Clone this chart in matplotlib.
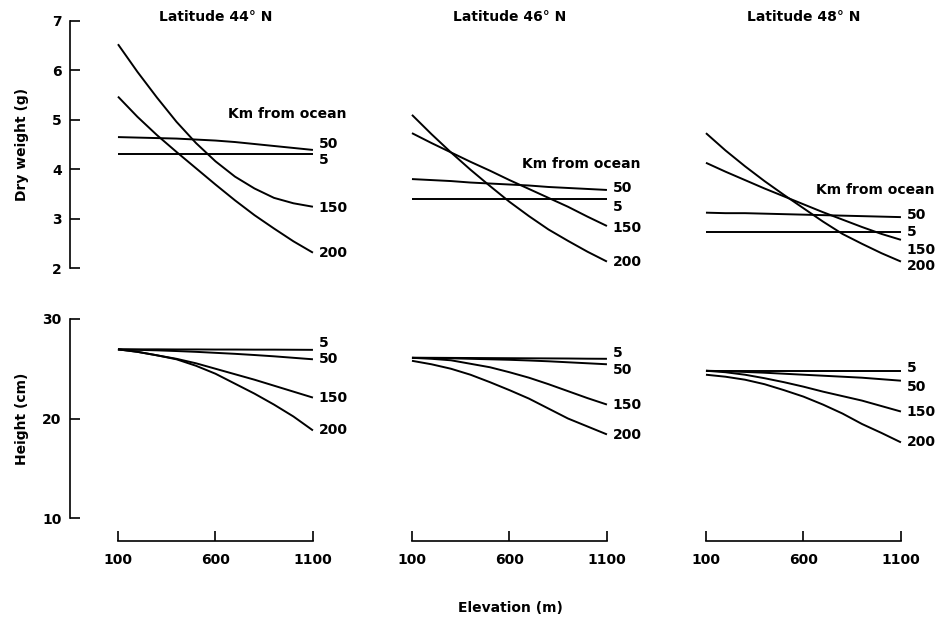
import matplotlib.pyplot as plt

elev = [100, 200, 300, 400, 500, 600, 700, 800, 900, 1000, 1100]
dists = ['5', '50', '150', '200']
titles = ['Latitude 44° N', 'Latitude 46° N', 'Latitude 48° N']

# dry weight (g) by km from ocean
dry_44 = {'5': [4.30, 4.30, 4.30, 4.30, 4.30, 4.30, 4.30, 4.30, 4.30, 4.30, 4.30],
          '50': [4.65, 4.64, 4.63, 4.62, 4.60, 4.58, 4.55, 4.51, 4.47, 4.43, 4.39],
          '150': [6.53, 5.97, 5.45, 4.96, 4.53, 4.16, 3.85, 3.61, 3.42, 3.31, 3.24],
          '200': [5.47, 5.06, 4.69, 4.35, 4.02, 3.69, 3.37, 3.07, 2.80, 2.54, 2.31]}
dry_46 = {'5': [3.39, 3.39, 3.39, 3.39, 3.39, 3.39, 3.39, 3.39, 3.39, 3.39, 3.39],
          '50': [3.80, 3.78, 3.76, 3.73, 3.71, 3.69, 3.67, 3.64, 3.62, 3.60, 3.58],
          '150': [4.73, 4.53, 4.34, 4.15, 3.97, 3.78, 3.60, 3.42, 3.24, 3.04, 2.85],
          '200': [5.10, 4.71, 4.34, 3.99, 3.66, 3.34, 3.05, 2.78, 2.55, 2.33, 2.13]}
dry_48 = {'5': [2.73, 2.73, 2.73, 2.73, 2.73, 2.73, 2.73, 2.73, 2.73, 2.73, 2.73],
          '50': [3.12, 3.11, 3.11, 3.10, 3.09, 3.08, 3.07, 3.06, 3.05, 3.04, 3.03],
          '150': [4.13, 3.95, 3.78, 3.61, 3.45, 3.29, 3.13, 2.98, 2.83, 2.69, 2.57],
          '200': [4.73, 4.38, 4.06, 3.76, 3.48, 3.21, 2.94, 2.69, 2.49, 2.30, 2.13]}

# height (cm)
ht_44 = {'5': [26.95, 26.95, 26.95, 26.94, 26.94, 26.93, 26.93, 26.92, 26.92, 26.91, 26.9],
         '50': [26.95, 26.9, 26.85, 26.78, 26.7, 26.6, 26.5, 26.38, 26.25, 26.1, 25.95],
         '150': [26.95, 26.7, 26.35, 26.0, 25.55, 25.0, 24.45, 23.9, 23.3, 22.7, 22.1],
         '200': [26.95, 26.7, 26.35, 25.95, 25.3, 24.5, 23.5, 22.5, 21.4, 20.2, 18.8]}
ht_46 = {'5': [26.1, 26.1, 26.09, 26.08, 26.07, 26.06, 26.05, 26.04, 26.03, 26.01, 26.0],
         '50': [26.1, 26.08, 26.05, 26.0, 25.95, 25.9, 25.83, 25.75, 25.65, 25.55, 25.45],
         '150': [26.1, 26.0, 25.85, 25.5, 25.15, 24.65, 24.1, 23.45, 22.75, 22.05, 21.4],
         '200': [25.8, 25.45, 25.0, 24.4, 23.65, 22.85, 22.0, 21.0, 20.0, 19.2, 18.4]}
ht_48 = {'5': [24.8, 24.8, 24.8, 24.8, 24.8, 24.8, 24.8, 24.8, 24.8, 24.8, 24.8],
         '50': [24.8, 24.75, 24.68, 24.6, 24.5, 24.4, 24.3, 24.2, 24.1, 23.95, 23.8],
         '150': [24.8, 24.65, 24.4, 24.05, 23.65, 23.2, 22.7, 22.25, 21.8, 21.25, 20.7],
         '200': [24.4, 24.2, 23.9, 23.45, 22.85, 22.2, 21.4, 20.5, 19.45, 18.55, 17.6]}

dry = [dry_44, dry_46, dry_48]
ht = [ht_44, ht_46, ht_48]

# label nudges in pixels (down is positive), to keep end labels apart
top_nudge = [{'5': 6, '50': -6, '150': 1, '200': 0},
             {'5': 8, '50': -2, '150': 2, '200': 0},
             {'5': 0, '50': -2, '150': 10, '200': 4}]
bot_nudge = [{'5': -7, '50': 0, '150': 0, '200': 0},
             {'5': -6, '50': 6, '150': 0, '200': 1},
             {'5': -3, '50': 6, '150': 0, '200': 0}]
km_pos = [(663, 5.12), (663, 4.11), (663, 3.58)]

plt.rcParams['font.weight'] = 'bold'
plt.rcParams['axes.labelweight'] = 'bold'
plt.rcParams['font.size'] = 10

W, H = 937, 619
fig = plt.figure(figsize=(W/100, H/100), dpi=100)

lw = 1.4
for i in range(3):
    left = (70 + 294*i)/W
    width = 272/W
    ax1 = fig.add_axes([left, 1-268/H, width, 247/H])
    ax2 = fig.add_axes([left, 1-518/H, width, 199/H])

    for ax in (ax1, ax2):
        ax.set_xlim(-146, 1249)
        ax.patch.set_visible(False)
        for s in ['top', 'right']:
            ax.spines[s].set_visible(False)

    ax1.set_ylim(2, 7)
    ax2.set_ylim(10, 30)

    for d in dists:
        ax1.plot(elev, dry[i][d], color='black', lw=lw, solid_capstyle='butt')
        ax1.annotate(d, xy=(elev[-1], dry[i][d][-1]), xytext=(4, -0.72*top_nudge[i][d]),
                     textcoords='offset points', ha='left', va='center', annotation_clip=False)
        ax2.plot(elev, ht[i][d], color='black', lw=lw, solid_capstyle='butt')
        ax2.annotate(d, xy=(elev[-1], ht[i][d][-1]), xytext=(4, -0.72*bot_nudge[i][d]),
                     textcoords='offset points', ha='left', va='center', annotation_clip=False)

    ax1.text(km_pos[i][0], km_pos[i][1], 'Km from ocean', ha='left', va='center')
    ax1.text(600, 1.0, titles[i], transform=ax1.get_xaxis_transform(),
             ha='center', va='baseline')

    # top row: no x axis
    ax1.spines['bottom'].set_visible(False)
    ax1.set_xticks([])

    # bottom row: detached elevation axis
    ax2.spines['bottom'].set_position(('outward', 16.5))
    ax2.spines['bottom'].set_bounds(100, 1100)
    ax2.spines['bottom'].set_linewidth(1.2)
    ax2.set_xticks([100, 600, 1100])
    ax2.tick_params(axis='x', direction='in', length=7, width=1.2, pad=9)

    if i == 0:
        ax1.spines['left'].set_bounds(2, 7)
        ax1.spines['left'].set_linewidth(1.2)
        ax1.set_yticks([2, 3, 4, 5, 6, 7])
        ax1.tick_params(axis='y', direction='in', length=7, width=1.2, pad=6)
        ax1.set_ylabel('Dry weight (g)')
        ax1.yaxis.set_label_coords(-0.15, 0.5)
        ax2.spines['left'].set_bounds(10, 30)
        ax2.spines['left'].set_linewidth(1.2)
        ax2.set_yticks([10, 20, 30])
        ax2.tick_params(axis='y', direction='in', length=7, width=1.2, pad=6)
        ax2.set_ylabel('Height (cm)')
        ax2.yaxis.set_label_coords(-0.15, 0.5)
    else:
        ax1.spines['left'].set_visible(False)
        ax2.spines['left'].set_visible(False)
        ax1.set_yticks([])
        ax2.set_yticks([])

fig.text(510/W, 1-608/H, 'Elevation (m)', ha='center', va='center')

plt.savefig('out.png', dpi=100)
